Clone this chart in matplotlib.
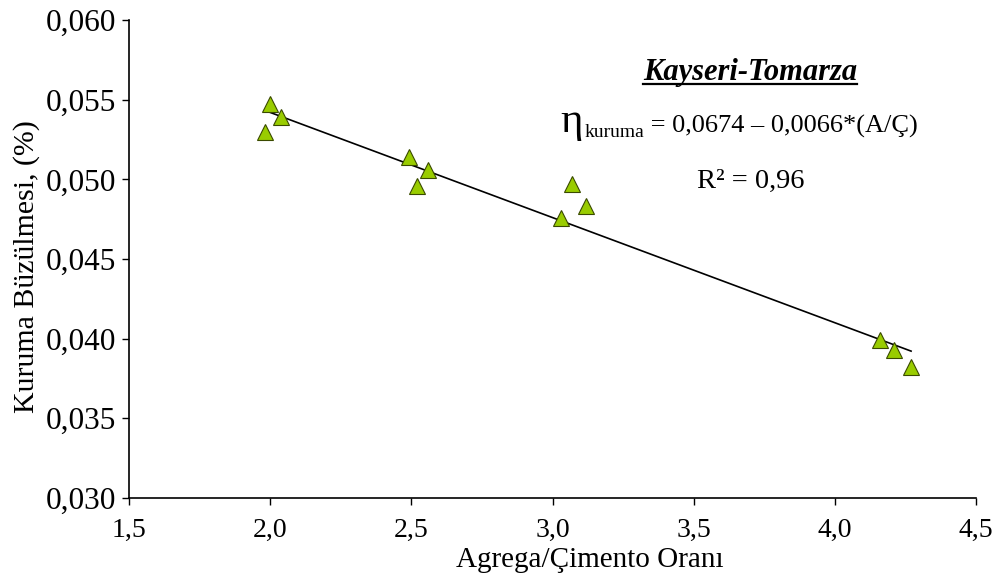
import numpy as np
import matplotlib.pyplot as plt
from matplotlib.ticker import FuncFormatter
from matplotlib.lines import Line2D

plt.rcParams['font.family'] = ['Liberation Serif', 'DejaVu Serif']

# data
ac_ratio = [2.00, 2.04, 1.98, 2.49, 2.56, 2.52, 3.07, 3.12, 3.03, 4.16, 4.21, 4.27]
shrinkage = [0.0547, 0.0539, 0.0530, 0.0514, 0.0506, 0.0496, 0.0497, 0.0483, 0.0476, 0.0399, 0.0393, 0.0382]
intercept = 0.0674
slope = -0.0066
xticks = [1.5, 2.0, 2.5, 3.0, 3.5, 4.0, 4.5]
yticks = [0.030, 0.035, 0.040, 0.045, 0.050, 0.055, 0.060]

W, H = 1003, 580
fig = plt.figure(figsize=(W/100, H/100), dpi=100)
ax = fig.add_axes([0.1286, 0.1414, 0.8445, 0.8241])

xs = np.array([min(ac_ratio), max(ac_ratio)])
ax.plot(xs, intercept + slope*xs, color='black', lw=1.2, zorder=2)
ax.plot(ac_ratio, shrinkage, linestyle='none', marker='^', markersize=11,
        markerfacecolor='#99CC00', markeredgecolor='#3a4a00', markeredgewidth=0.8, zorder=3)

ax.set_xlim(1.5, 4.5)
ax.set_ylim(0.030, 0.060)
ax.set_xticks(xticks)
ax.set_yticks(yticks)
ax.xaxis.set_major_formatter(FuncFormatter(lambda v, p: ('%.1f' % v).replace('.', ',')))
ax.yaxis.set_major_formatter(FuncFormatter(lambda v, p: ('%.3f' % v).replace('.', ',')))
ax.tick_params(direction='out', length=5, width=1)
ax.tick_params(axis='x', pad=9, labelsize=20)
ax.tick_params(axis='y', pad=4, labelsize=22.5)
for s in ['top', 'right']:
    ax.spines[s].set_visible(False)
for s in ['left', 'bottom']:
    ax.spines[s].set_linewidth(1.2)

ax.set_xlabel('Agrega/Çimento Oranı', fontsize=21)
ax.xaxis.set_label_coords(0.544, -0.103)
ax.set_ylabel('Kuruma Büzülmesi, (%)', fontsize=21.5)
ax.yaxis.set_label_coords(-0.105, 0.485)

t = fig.text(0.748, 0.862, 'Kayseri-Tomarza', fontsize=22, fontweight='bold',
             fontstyle='italic', ha='center', va='baseline')
r2 = fig.text(0.749, 0.676, 'R² = 0,96', fontsize=20.5, ha='center', va='baseline')

# equation built from pieces: big eta, small subscript, rest
fig.canvas.draw()
r = fig.canvas.get_renderer()
x0 = 560 / W
yb = 0.772
eta = fig.text(x0, yb, 'η', fontsize=31, ha='left', va='baseline')
bb = eta.get_window_extent(r)
sub = fig.text(bb.x1 / W + 0.002, yb - 5 / H, 'kuruma', fontsize=14, ha='left', va='baseline')
bb = sub.get_window_extent(r)
rest = fig.text(bb.x1 / W, yb, ' = 0,0674 – 0,0066*(A/Ç)', fontsize=19, ha='left', va='baseline')

# underline the title
bb = t.get_window_extent(r)
fig.add_artist(Line2D([bb.x0 / W, bb.x1 / W], [0.855, 0.855], color='black', lw=1.6,
                      transform=fig.transFigure))

fig.savefig('out.png', dpi=100)
